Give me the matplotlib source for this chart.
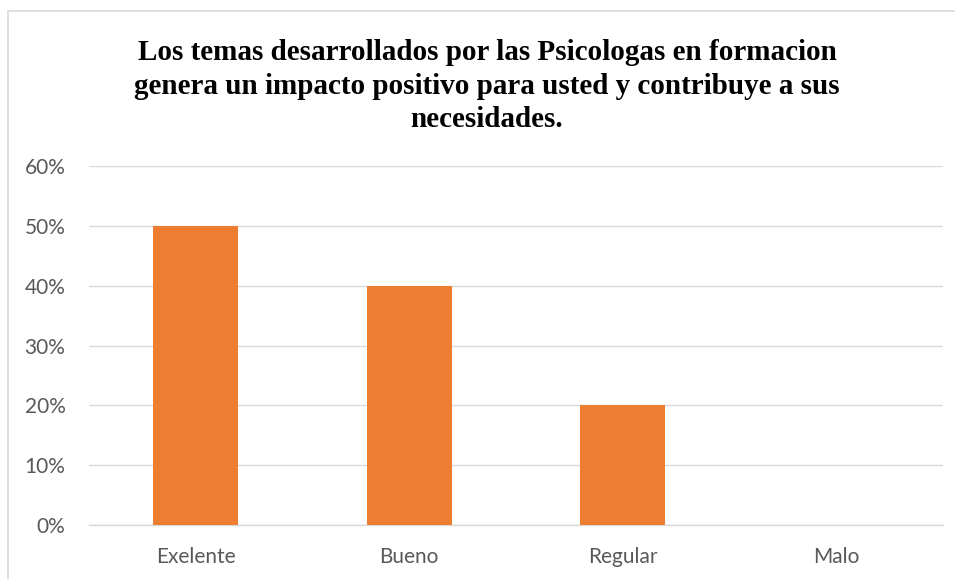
import matplotlib.pyplot as plt
from matplotlib.patches import Rectangle
from matplotlib.ticker import PercentFormatter

# Chart data
categories = ["Exelente", "Bueno", "Regular", "Malo"]
values = [0.50, 0.40, 0.20, 0.0]
y_ticks = [0.0, 0.1, 0.2, 0.3, 0.4, 0.5, 0.6]
title = ("Los temas desarrollados por las Psicologas en formacion\n"
         "genera un impacto positivo para usted y contribuye a sus\n"
         "necesidades.")

fig = plt.figure(figsize=(9.55, 5.79), dpi=100)

# Light border of the chart area
fig.patches.append(Rectangle((8 / 955, -0.02), 1.0, 1 - 11 / 579 + 0.02,
                             transform=fig.transFigure, fill=False,
                             edgecolor="#d9d9d9", linewidth=1.2))

ax = fig.add_axes([89 / 955, 1 - 525 / 579, (943 - 89) / 955, (525 - 166) / 579])
ax.bar(range(len(categories)), values, width=0.40, color="#ed7d31", zorder=3)

ax.set_xlim(-0.5, len(categories) - 0.5)
ax.set_ylim(0, 0.6)
ax.set_yticks(y_ticks)
ax.yaxis.set_major_formatter(PercentFormatter(1.0, decimals=0))
ax.set_xticks(range(len(categories)))
ax.set_xticklabels(categories)

ax.grid(axis="y", color="#d9d9d9", linewidth=1, zorder=0)
for side in ["top", "right", "left"]:
    ax.spines[side].set_visible(False)
ax.spines["bottom"].set_color("#d9d9d9")
ax.spines["bottom"].set_linewidth(1)
ax.tick_params(length=0, labelsize=15, colors="#595959", pad=16)
ax.tick_params(axis="y", pad=17)
for lbl in ax.get_xticklabels() + ax.get_yticklabels():
    lbl.set_family(["Lato", "DejaVu Sans"])

fig.text(487 / 955, 1 - 86 / 579, title, ha="center", va="center", fontsize=21,
         fontweight="bold", family=["Liberation Serif", "DejaVu Serif"],
         linespacing=1.3)

fig.savefig("out.png", dpi=100)
